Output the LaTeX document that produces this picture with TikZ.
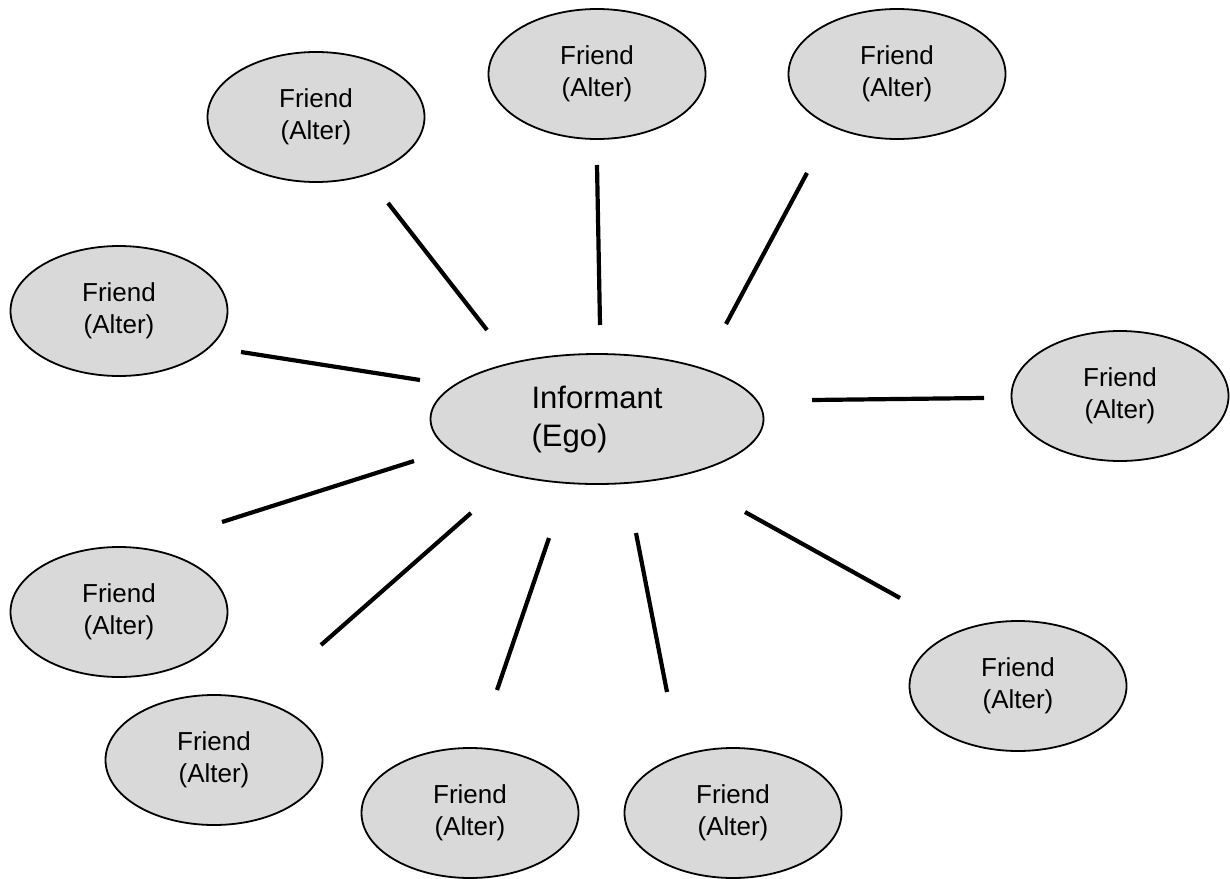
\documentclass[tikz,border=0pt]{standalone}
\usepackage{fontspec}
\setmainfont{Liberation Sans}
\usetikzlibrary{shapes.geometric}
\definecolor{ellfill}{RGB}{217,217,217}
\tikzset{
  friend/.style={ellipse, draw=black, line width=1.8pt, fill=ellfill,
    minimum width=217pt, minimum height=130pt, inner sep=0pt, align=center,
    font=\fontsize{26}{32}\selectfont},
  ego/.style={ellipse, draw=black, line width=1.8pt, fill=ellfill,
    minimum width=333pt, minimum height=130pt, inner sep=0pt, align=left,
    font=\fontsize{31}{38}\selectfont},
  tie/.style={line width=4.2pt, line cap=butt}
}
\begin{document}
\begin{tikzpicture}[x=1pt,y=-1pt]
\useasboundingbox (0,0) rectangle (1230,878);
\node[ego] (ego) at (597,419) {Informant\\(Ego)};
\node[friend] (f1) at (316,117) {Friend\\(Alter)};
\node[friend] (f2) at (597,74) {Friend\\(Alter)};
\node[friend] (f3) at (897,74) {Friend\\(Alter)};
\node[friend] (f4) at (119,311) {Friend\\(Alter)};
\node[friend] (f5) at (1120,396) {Friend\\(Alter)};
\node[friend] (f6) at (119,612) {Friend\\(Alter)};
\node[friend] (f7) at (214,760) {Friend\\(Alter)};
\node[friend] (f8) at (470,813) {Friend\\(Alter)};
\node[friend] (f9) at (733,813) {Friend\\(Alter)};
\node[friend] (f10) at (1018,686) {Friend\\(Alter)};
\coordinate (a1) at (388,203); \coordinate (b1) at (487,330);
\coordinate (a2) at (597,165); \coordinate (b2) at (600,325);
\coordinate (a3) at (807,173); \coordinate (b3) at (726,324);
\coordinate (a4) at (241,352); \coordinate (b4) at (420,380);
\coordinate (a5) at (984,398); \coordinate (b5) at (812,400);
\coordinate (a6) at (222,522); \coordinate (b6) at (414,461);
\coordinate (a7) at (321,645); \coordinate (b7) at (471,513);
\coordinate (a8) at (497,690); \coordinate (b8) at (549,538);
\coordinate (a9) at (667,692); \coordinate (b9) at (636,533);
\coordinate (a10) at (900,598); \coordinate (b10) at (745,512);
\foreach \i in {1,...,10} { \draw[tie] (a\i) -- (b\i); }
\end{tikzpicture}
\end{document}
